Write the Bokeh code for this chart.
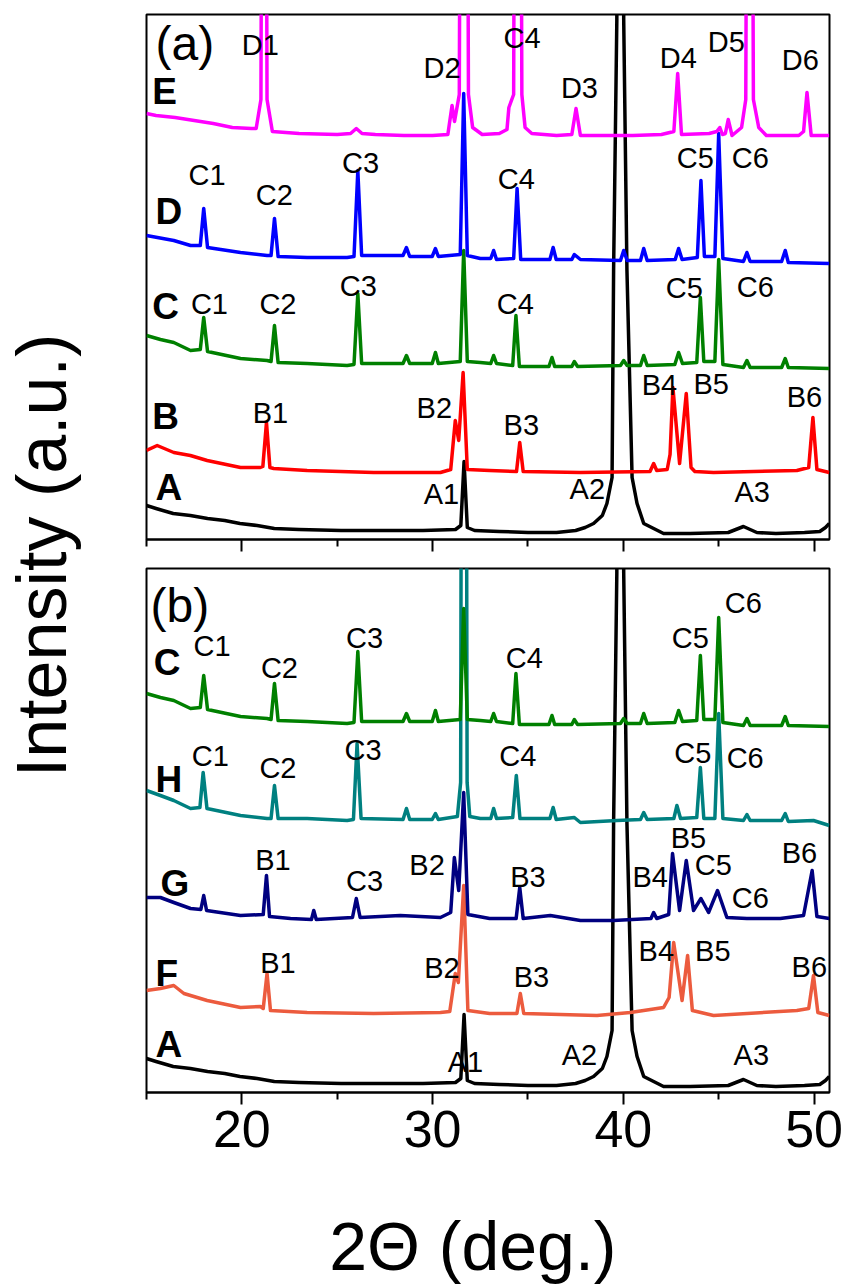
import math
from bokeh.plotting import figure
from bokeh.layouts import row, column
from bokeh.models import Range1d, FixedTicker, ColumnDataSource, CustomLabelingPolicy
from bokeh.core.properties import value
from bokeh.embed import file_html
from bokeh.resources import INLINE

FONT = "Liberation Sans"

# ------------------------------------------------------------------
# Data: 2-theta (deg) and intensity (a.u.)
# ------------------------------------------------------------------
tt_A = [15.0, 15.5, 16.4, 17.3, 18.2, 19.1, 19.9, 20.8, 21.7, 23.0, 25.2, 27.5, 29.5, 31.2, 31.48,
        31.65, 31.82, 32.2, 33.5, 35.0, 36.5, 37.5, 38.0, 38.44, 38.9, 39.14, 39.41, 39.49, 39.66,
        39.84, 40.02, 40.19, 40.46, 40.72, 41.07, 42.11, 43.5, 45.5, 46.3, 47.0, 48.0, 49.5, 50.3,
        50.6, 50.8]
I_A = [34, 31, 26, 24, 21, 19, 16, 14, 11, 10, 9, 9, 9, 10, 14,
       78, 12, 9, 8, 7, 7, 9, 12, 16, 24, 36, 62, 269, 520,
       3000, 520, 269, 62, 36, 16, 6, 6, 7, 13, 7, 6, 7, 8,
       12, 16]

tt_B = [15.0, 15.56, 16.43, 17.3, 18.18, 19.93, 20.97, 21.1, 21.29, 21.47, 21.67, 23.42, 26.91,
        30.41, 30.95, 31.19, 31.37, 31.6, 31.82, 32.99, 34.4, 34.57, 34.75, 37.75, 41.4, 41.59,
        41.75, 42.3, 42.45, 42.6, 42.95, 43.3, 43.55, 43.75, 44.73, 49.1, 49.72, 49.94, 50.15, 50.8]
I_B = [89, 94, 87, 84, 79, 72, 72, 73, 117, 72, 71, 69, 67,
       67, 70, 119, 99, 167, 70, 69, 68, 97, 68, 67, 68, 76,
       69, 70, 85, 152, 76, 146, 72, 68, 67, 69, 72, 122, 70, 67]

tt_C = [15.0, 15.73, 16.43, 17.31, 17.82, 18.0, 18.2, 19.93, 21.32, 21.53, 21.71, 21.9, 23.42,
        25.52, 25.88, 26.08, 26.28, 28.45, 28.63, 28.8, 29.98, 30.15, 30.3, 31.45, 31.63, 31.82,
        32.5, 33.05, 33.2, 33.35, 34.2, 34.37, 34.55, 36.1, 36.26, 36.4, 37.3, 37.43, 37.6, 39.85,
        40.02, 40.2, 40.9, 41.07, 41.25, 42.7, 42.9, 43.1, 43.85, 44.04, 44.22, 44.8, 45.0, 45.22,
        46.3, 46.48, 46.65, 48.3, 48.49, 48.65, 50.8]
I_C = [204, 200, 197, 189, 190, 222, 188, 181, 179, 178, 214, 177, 176,
       174, 175, 246, 176, 176, 184, 176, 176, 187, 176, 178, 289, 178,
       177, 176, 184, 176, 174, 224, 173, 173, 182, 173, 173, 178, 173, 174,
       179, 174, 174, 184, 174, 175, 187, 176, 177, 242, 178, 178, 280, 175,
       172, 179, 172, 172, 181, 172, 171]

tt_D = [15.0, 16.43, 17.31, 17.82, 18.0, 18.2, 19.93, 21.32, 21.53, 21.71, 21.9, 23.42, 25.52,
        25.88, 26.08, 26.28, 28.45, 28.63, 28.8, 29.98, 30.15, 30.3, 31.45, 31.63, 31.82, 32.5,
        33.05, 33.2, 33.35, 34.25, 34.43, 34.62, 36.15, 36.32, 36.48, 37.3, 37.43, 37.75, 39.85,
        40.02, 40.2, 40.9, 41.07, 41.25, 42.72, 42.9, 43.08, 43.88, 44.07, 44.25, 44.8, 45.0,
        45.22, 46.3, 46.48, 46.65, 48.3, 48.49, 48.65, 50.8]
I_D = [304, 299, 294, 294, 331, 292, 287, 284, 284, 321, 283, 282, 282,
       283, 369, 284, 284, 292, 283, 283, 291, 283, 285, 446, 284, 281,
       281, 289, 280, 281, 351, 280, 280, 292, 280, 280, 285, 280, 279,
       289, 279, 279, 291, 279, 280, 291, 280, 282, 359, 283, 283, 406,
       281, 278, 287, 278, 278, 289, 277, 276]

tt_E = [15.0, 15.5, 16.5, 17.5, 18.5, 19.5, 20.5, 20.75, 21.0, 21.16, 21.32, 21.6, 23.0, 25.0,
        25.7, 26.0, 26.3, 27.0, 28.5, 30.0, 30.8, 31.02, 31.15, 31.4, 31.64, 31.88, 32.1, 32.6,
        33.5, 33.9, 34.0, 34.25, 34.46, 34.68, 34.85, 35.2, 36.5, 37.3, 37.52, 37.75, 39.0, 40.5,
        42.0, 42.65, 42.85, 43.05, 44.5, 44.9, 45.06, 45.2, 45.35, 45.5, 45.7, 46.2, 46.42, 46.62,
        46.82, 47.1, 47.5, 49.2, 49.45, 49.63, 49.85, 50.8]
I_E = [426, 424, 422, 419, 416, 412, 411, 411, 440, 1500, 440, 408, 406, 405,
       406, 411, 406, 405, 404, 404, 405, 434, 418, 445, 1800, 445, 412, 405,
       406, 410, 432, 445, 1800, 445, 412, 406, 404, 405, 431, 404, 404, 404,
       405, 408, 466, 405, 406, 408, 412, 405, 406, 420, 404, 412, 440, 1500,
       440, 412, 404, 404, 408, 447, 404, 404]

tt_F = [15.0, 15.73, 16.43, 16.96, 18.18, 19.93, 20.97, 21.12, 21.32, 21.5, 23.42, 26.91, 30.41,
        30.9, 31.19, 31.35, 31.63, 31.85, 32.99, 34.42, 34.6, 34.78, 38.62, 40.37, 42.11, 42.4,
        42.64, 43.08, 43.37, 43.62, 44.73, 49.1, 49.72, 49.97, 50.2, 50.8]
I_F = [102, 104, 107, 99, 92, 85, 86, 84, 119, 82, 80, 79, 80,
       81, 119, 110, 207, 82, 79, 79, 99, 79, 77, 80, 85, 95,
       150, 92, 137, 82, 77, 82, 84, 117, 80, 77]

tt_G = [15.0, 15.73, 16.43, 17.31, 17.85, 18.0, 18.15, 19.93, 21.12, 21.29, 21.45, 22.55, 23.65,
        23.77, 23.9, 25.8, 26.0, 26.2, 28.31, 30.41, 30.95, 31.14, 31.37, 31.63, 31.85, 32.99,
        34.38, 34.57, 34.75, 36.17, 37.75, 39.49, 41.45, 41.59, 41.75, 42.38, 42.58, 42.95, 43.3,
        43.68, 44.07, 44.47, 44.94, 45.43, 46.48, 48.23, 49.45, 49.9, 50.15, 50.8]
I_G = [195, 195, 190, 184, 183, 197, 182, 177, 178, 217, 176, 174, 173,
       182, 173, 175, 194, 175, 177, 175, 180, 235, 202, 300, 178, 174,
       174, 205, 174, 177, 172, 172, 174, 180, 174, 178, 239, 182, 232,
       182, 194, 180, 202, 175, 174, 174, 177, 222, 176, 174]

tt_H = [15.0, 15.73, 16.43, 17.31, 17.8, 17.97, 18.17, 19.93, 21.32, 21.53, 21.71, 21.9, 23.42,
        25.52, 25.85, 26.04, 26.25, 28.45, 28.63, 28.8, 29.98, 30.15, 30.3, 31.3, 31.47, 31.64,
        31.81, 31.95, 32.5, 33.05, 33.2, 33.35, 34.2, 34.39, 34.58, 36.15, 36.32, 36.48, 37.43,
        37.75, 39.67, 40.9, 41.07, 41.25, 42.65, 42.81, 43.0, 43.85, 44.04, 44.22, 44.8, 45.0,
        45.22, 46.3, 46.48, 46.65, 48.3, 48.49, 48.65, 49.97, 50.8]
I_H = [302, 297, 292, 284, 285, 320, 284, 277, 274, 274, 307, 274, 274,
       272, 273, 349, 274, 273, 284, 273, 273, 279, 273, 276, 310, 2000,
       310, 276, 274, 274, 284, 274, 275, 317, 274, 274, 285, 273, 275,
       270, 272, 273, 280, 273, 274, 287, 274, 275, 325, 274, 274, 379,
       274, 272, 278, 272, 272, 279, 271, 272, 267]

# vertical stacking shift of pattern C when redrawn in panel (b)
C_SHIFT_B = 195

COLORS = {"A": "#000000", "B": "#FF0000", "C": "#008000", "D": "#0000FF", "E": "#FF00FF",
          "F": "#EC5B3E", "G": "#000080", "H": "#008080"}

# Peak labels: text, 2-theta, intensity
lab_a = ["D1", "D2", "C4", "D3", "D4", "D5", "D6",
         "C1", "C2", "C3", "C4", "C5", "C6",
         "C1", "C2", "C3", "C4", "C5", "C6",
         "B1", "B2", "B3", "B4", "B5", "B6",
         "A1", "A2", "A3"]
lab_a_x = [20.97, 30.5, 34.69, 37.7, 42.88, 45.4, 49.28,
           18.18, 21.7, 26.22, 34.39, 43.77, 46.66,
           18.3, 21.89, 26.11, 34.34, 43.2, 46.92,
           21.5, 30.09, 34.65, 41.89, 44.61, 49.5,
           30.46, 38.11, 46.76]
lab_a_y = [495, 471.5, 502, 452, 481.5, 498, 480,
           365, 345, 376.5, 361, 382, 382,
           236, 236, 254, 236, 251.5, 253,
           127, 131.5, 115, 155, 156, 143,
           46, 51, 48]

lab_b = ["C1", "C2", "C3", "C4", "C5", "C6",
         "C1", "C2", "C3", "C4", "C5", "C6",
         "B1", "C3", "B2", "B3", "B4", "B5", "C5", "C6", "B6",
         "B1", "B2", "B3", "B4", "B5", "B6",
         "A1", "A2", "A3"]
lab_b_x = [18.44, 21.97, 26.43, 34.81, 43.51, 46.29,
           18.35, 21.89, 26.35, 34.47, 43.64, 46.39,
           21.63, 26.43, 29.71, 35.0, 41.41, 43.41, 44.72, 46.66, 49.23,
           21.89, 30.49, 35.18, 41.73, 44.69, 49.75,
           31.72, 37.7, 46.71]
lab_b_y = [447, 425, 454.5, 435, 454.5, 490,
           337, 325, 343, 337, 340, 335,
           233, 212, 228, 216, 216, 255, 228, 194.5, 239.5,
           129.5, 124.5, 116, 142, 142, 126,
           31, 38, 38]

# Sample letters
sam_a = ["E", "D", "C", "B", "A"]
sam_a_x = [15.3, 15.47, 15.3, 15.3, 15.47]
sam_a_y = [448, 328, 233, 123, 52]
sam_b = ["C", "H", "G", "F", "A"]
sam_b_x = [15.38, 15.47, 15.73, 15.47, 15.47]
sam_b_y = [430, 313, 209.5, 119.5, 48]

X_MIN, X_MAX = 15.0, 50.81
MAJOR = [20, 30, 40, 50]
MINOR = [15, 25, 35, 45]


def panel(height, top, bottom, ymax, show_labels):
    p = figure(width=699, height=height, x_range=Range1d(X_MIN, X_MAX),
               y_range=Range1d(0, ymax), output_backend="svg", toolbar_location=None,
               min_border_left=2, min_border_right=14, min_border_top=top,
               min_border_bottom=bottom)
    p.yaxis.visible = False
    p.grid.visible = False
    p.outline_line_color = "black"
    p.outline_line_width = 2
    p.background_fill_color = "white"
    p.border_fill_color = "white"
    ax = p.xaxis[0]
    ax.ticker = FixedTicker(ticks=MAJOR, minor_ticks=MINOR)
    ax.axis_line_width = 2
    ax.axis_line_color = "black"
    ax.major_tick_line_width = 2
    ax.minor_tick_line_width = 2
    ax.major_tick_in = 0
    ax.major_tick_out = 12
    ax.minor_tick_in = 0
    ax.minor_tick_out = 7
    if show_labels:
        ax.major_label_text_font = FONT
        ax.major_label_text_font_size = "52px"
        ax.major_label_text_color = "black"
        ax.major_label_standoff = 6
    else:
        # top panel: tick marks only, no tick labels
        ax.major_label_text_font_size = "0px"
        ax.major_label_standoff = 0
        ax.major_label_policy = CustomLabelingPolicy(code="return []")
    return p


def trace(p, tt, inten, color, shift=0):
    src = ColumnDataSource(dict(x=list(tt), y=[v + shift for v in inten]))
    p.line("x", "y", source=src, line_color=color, line_width=3.5, line_join="round")


def labels(p, txt, xs, ys):
    src = ColumnDataSource(dict(x=xs, y=ys, t=txt))
    p.text("x", "y", text="t", source=src, text_font=value(FONT),
           text_font_size=value("29px"), text_align="center", text_baseline="middle",
           text_color="black")


def samples(p, txt, xs, ys):
    src = ColumnDataSource(dict(x=xs, y=ys, t=txt))
    p.text("x", "y", text="t", source=src, text_font=value(FONT),
           text_font_size=value("37px"), text_font_style="bold", text_align="left",
           text_baseline="middle", text_color="black")


# ---------------- panel (a) ----------------
pa = panel(559, 14, 20, 525, False)
trace(pa, tt_A, I_A, COLORS["A"])
trace(pa, tt_B, I_B, COLORS["B"])
trace(pa, tt_C, I_C, COLORS["C"])
trace(pa, tt_D, I_D, COLORS["D"])
trace(pa, tt_E, I_E, COLORS["E"])
labels(pa, lab_a, lab_a_x, lab_a_y)
samples(pa, sam_a, sam_a_x, sam_a_y)
pa.text(x=[15.47], y=[496], text=["(a)"], text_font=value(FONT), text_font_size=value("48px"),
        text_align="left", text_baseline="middle", text_color="black")

# ---------------- panel (b) ----------------
pb = panel(623, 9, 90, 524, True)
trace(pb, tt_A, I_A, COLORS["A"])
trace(pb, tt_F, I_F, COLORS["F"])
trace(pb, tt_G, I_G, COLORS["G"])
trace(pb, tt_H, I_H, COLORS["H"])
trace(pb, tt_C, I_C, COLORS["C"], C_SHIFT_B)
labels(pb, lab_b, lab_b_x, lab_b_y)
samples(pb, sam_b, sam_b_x, sam_b_y)
pb.text(x=[15.21], y=[487], text=["(b)"], text_font=value(FONT), text_font_size=value("48px"),
        text_align="left", text_baseline="middle", text_color="black")


def blank(width, height, xr, yr):
    p = figure(width=width, height=height, x_range=Range1d(*xr), y_range=Range1d(*yr),
               output_backend="svg", toolbar_location=None, min_border=0)
    p.axis.visible = False
    p.grid.visible = False
    p.outline_line_color = None
    p.background_fill_color = "white"
    p.border_fill_color = "white"
    return p


# x-axis title (page pixel coordinates)
px = blank(699, 102, (144, 843), (1284, 1182))
px.text(x=[478], y=[1245], text=["2\u0398 (deg.)"], text_font=value(FONT),
        text_font_size=value("68px"), text_align="center", text_baseline="middle",
        text_color="black")

# y-axis title (page pixel coordinates)
py = blank(144, 1284, (0, 144), (1284, 0))
py.text(x=[41], y=[555], text=["Intensity (a.u.)"], text_font=value(FONT),
        text_font_size=value("70px"), text_align="center", text_baseline="middle",
        angle=math.pi / 2, text_color="black")

layout = row(py, column(pa, pb, px, spacing=0), spacing=0)

open("out.html", "w").write(file_html(layout, INLINE))
